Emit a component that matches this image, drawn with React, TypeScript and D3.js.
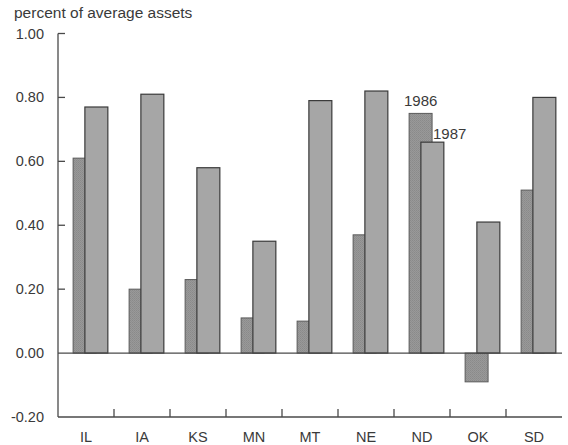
import React from "react";
import * as d3 from "d3";

const categories = ["IL", "IA", "KS", "MN", "MT", "NE", "ND", "OK", "SD"];
const values1986 = [0.61, 0.2, 0.23, 0.11, 0.1, 0.37, 0.75, -0.09, 0.51];
const values1987 = [0.77, 0.81, 0.58, 0.35, 0.79, 0.82, 0.66, 0.41, 0.8];
const yTicks = [1.0, 0.8, 0.6, 0.4, 0.2, 0.0, -0.2];

const W = 568;
const H = 445;
const font = "'Liberation Sans', Arial, sans-serif";

export default function App() {
  const x = d3.scaleBand<string>().domain(categories).range([58, 562]).paddingInner(0).paddingOuter(0);
  const y = d3.scaleLinear().domain([-0.2, 1.0]).range([417, 33.5]);
  const bw = x.bandwidth();
  const barW = bw * 0.41;
  const off86 = bw * 0.27;
  const off87 = bw * 0.48;
  const y0 = y(0);
  const axisColor = "#4a4a4a";
  const textColor = "#3a3a3a";

  return (
    <svg width={W} height={H} style={{ position: "absolute", left: 0, top: 0, background: "#fff" }}>
      <defs>
        <pattern id="stip" width="2" height="2" patternUnits="userSpaceOnUse">
          <rect width="2" height="2" fill="#999" />
          <rect width="1" height="1" fill="#8a8a8a" />
          <rect x="1" y="1" width="1" height="1" fill="#8f8f8f" />
        </pattern>
      </defs>
      <text x={14} y={18} fontFamily={font} fontSize={15.5} fill={textColor}>
        percent of average assets
      </text>
      {/* y axis */}
      <line x1={58} x2={58} y1={y(1.0)} y2={y(-0.2)} stroke={axisColor} strokeWidth={1.3} />
      {yTicks.map((t) => (
        <g key={t}>
          {t !== 0 && t !== -0.2 && (
            <line x1={58} x2={65} y1={y(t)} y2={y(t)} stroke={axisColor} strokeWidth={1.3} />
          )}
          <text
            x={44}
            y={y(t)}
            dy="0.35em"
            textAnchor="end"
            fontFamily={font}
            fontSize={14.5}
            fill={textColor}
          >
            {t.toFixed(2)}
          </text>
        </g>
      ))}
      {/* bars */}
      {categories.map((c, i) => {
        const x0 = x(c) as number;
        const v86 = values1986[i];
        const v87 = values1987[i];
        return (
          <g key={c}>
            <rect
              x={x0 + off86}
              y={Math.min(y(v86), y0)}
              width={barW}
              height={Math.abs(y(v86) - y0)}
              fill="url(#stip)"
              stroke="#5a5a5a"
              strokeWidth={1}
            />
            <rect
              x={x0 + off87}
              y={Math.min(y(v87), y0)}
              width={barW}
              height={Math.abs(y(v87) - y0)}
              fill="#a6a6a6"
              stroke="#3a3a3a"
              strokeWidth={1.2}
            />
          </g>
        );
      })}
      {/* zero line */}
      <line x1={58} x2={562} y1={y0} y2={y0} stroke={axisColor} strokeWidth={1.3} />
      {/* x axis */}
      <line x1={58} x2={562} y1={y(-0.2)} y2={y(-0.2)} stroke={axisColor} strokeWidth={1.5} />
      {categories.slice(1).map((c) => (
        <line
          key={c}
          x1={x(c) as number}
          x2={x(c) as number}
          y1={y(-0.2)}
          y2={y(-0.2) - 8}
          stroke={axisColor}
          strokeWidth={1.3}
        />
      ))}
      {categories.map((c) => (
        <text
          key={c}
          x={(x(c) as number) + bw / 2}
          y={437}
          dy="0.35em"
          textAnchor="middle"
          fontFamily={font}
          fontSize={14.5}
          fill={textColor}
        >
          {c}
        </text>
      ))}
      {/* series labels */}
      <text x={404} y={106} fontFamily={font} fontSize={15} fill={textColor}>
        1986
      </text>
      <text x={433} y={139} fontFamily={font} fontSize={15} fill={textColor}>
        1987
      </text>
    </svg>
  );
}
